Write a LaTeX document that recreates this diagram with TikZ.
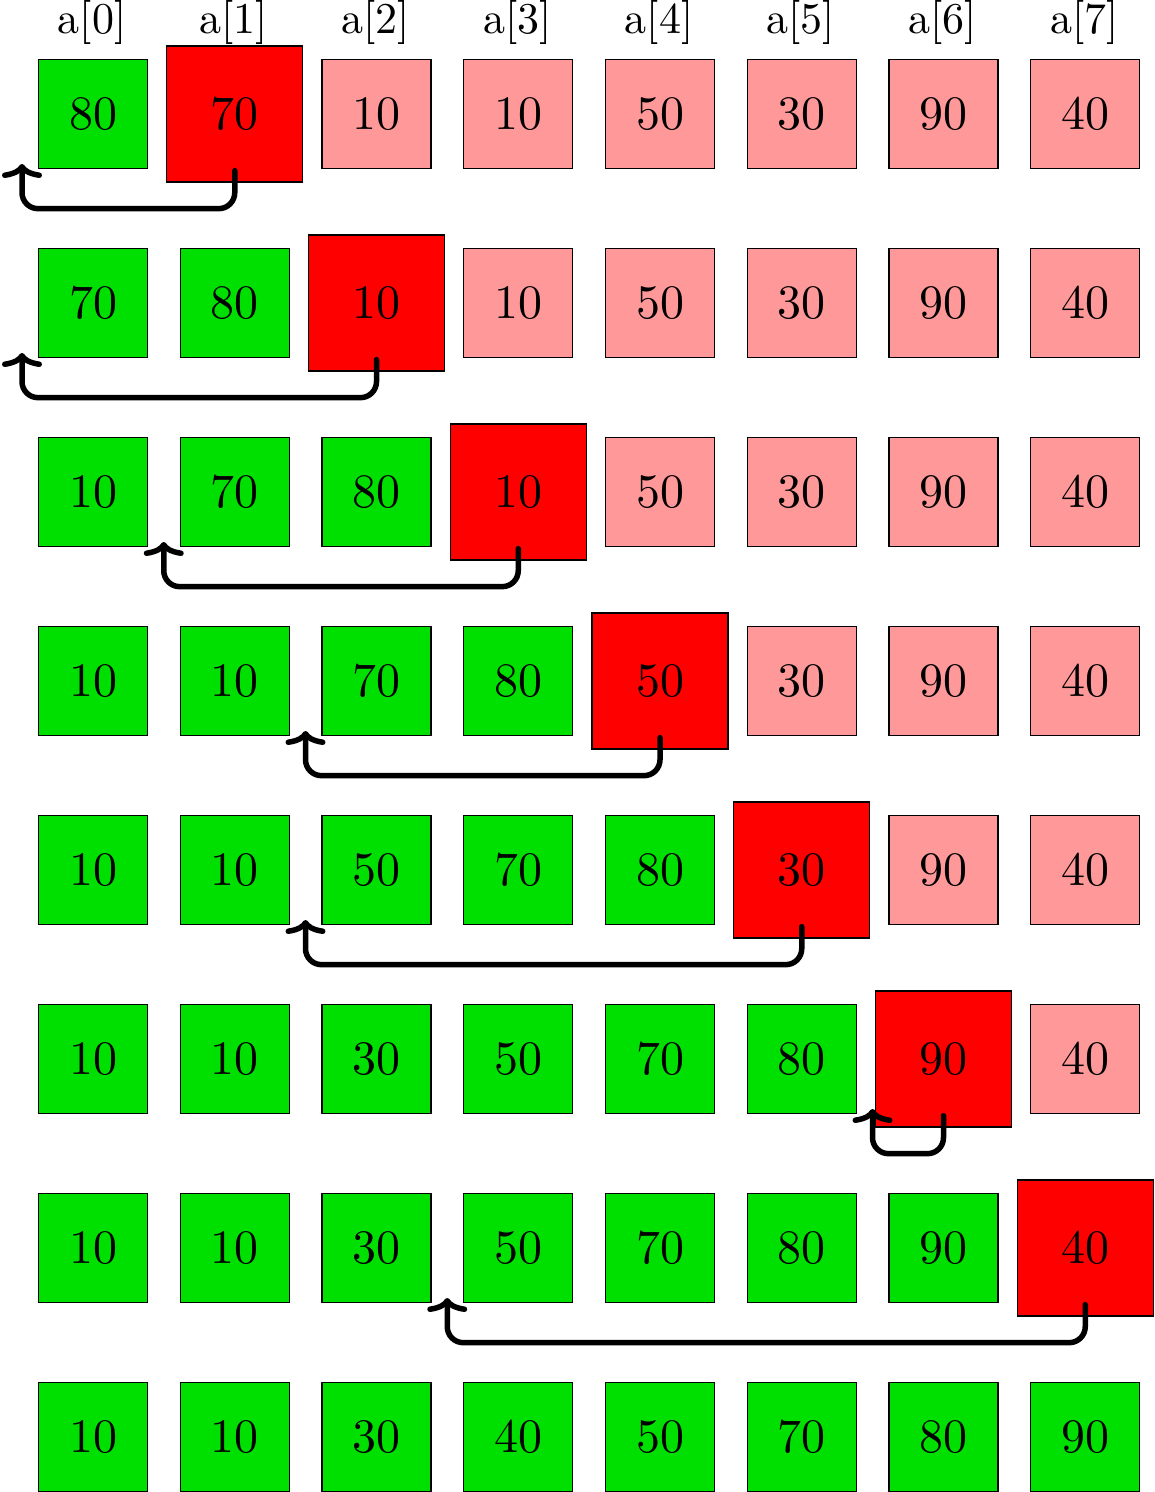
\documentclass[tikz,border=0pt]{standalone}
\usepackage{fontspec}
\setmainfont{lmroman10-regular}[Extension=.otf]
\usetikzlibrary{arrows.meta}
\definecolor{boxgreen}{RGB}{0,224,0}
\definecolor{boxpink}{RGB}{255,153,153}
\definecolor{boxred}{RGB}{255,0,0}
\newcommand\putcell[4]{\node[#1] (#2) at (#3) {#4};}
\newcommand\cellrow[3]{% row index, current index, values
  \foreach \v [count=\j from 0] in {#3} {%
    \ifnum\j<#2\relax \def\st{done}\else
      \ifnum\j=#2\relax \def\st{cur}\else \def\st{todo}\fi\fi
    \expandafter\putcell\expandafter{\st}{r#1c\j}{{93+141.75*\j},{114+189*#1}}{\v}%
  }%
}
\newcommand\shiftarrow[3]{% row, from column, to column
  \coordinate (t#1) at ({93+141.75*#3-71},{114+189*#1+50});
  \draw[move] ([yshift=12pt]r#1c#2.south) -- ++(0,38) -| (t#1);
}
\begin{document}
\begin{tikzpicture}[x=1pt,y=-1pt,
  cell/.style={draw=black, line width=1.3pt, inner sep=0pt, minimum size=109pt,
               font=\fontsize{48}{58}\selectfont},
  done/.style={cell, fill=boxgreen},
  todo/.style={cell, fill=boxpink},
  cur/.style={cell, fill=boxred, minimum size=136pt},
  idx/.style={anchor=base, inner sep=0pt, font=\fontsize{44}{52}\selectfont},
  move/.style={line width=5.5pt, rounded corners=16pt, line cap=round,
               -{To[round, length=14pt, width=40pt]}}]
\useasboundingbox (0,0) rectangle (1155,1492);
\foreach \j in {0,...,7} {
  \node[idx] (lab\j) at ({92+141.75*\j},33) {a[\j]};
}
\cellrow{0}{1}{80,70,10,10,50,30,90,40}
\cellrow{1}{2}{70,80,10,10,50,30,90,40}
\cellrow{2}{3}{10,70,80,10,50,30,90,40}
\cellrow{3}{4}{10,10,70,80,50,30,90,40}
\cellrow{4}{5}{10,10,50,70,80,30,90,40}
\cellrow{5}{6}{10,10,30,50,70,80,90,40}
\cellrow{6}{7}{10,10,30,50,70,80,90,40}
\cellrow{7}{8}{10,10,30,40,50,70,80,90}
\shiftarrow{0}{1}{0}
\shiftarrow{1}{2}{0}
\shiftarrow{2}{3}{1}
\shiftarrow{3}{4}{2}
\shiftarrow{4}{5}{2}
\shiftarrow{5}{6}{6}
\shiftarrow{6}{7}{3}
\end{tikzpicture}
\end{document}
